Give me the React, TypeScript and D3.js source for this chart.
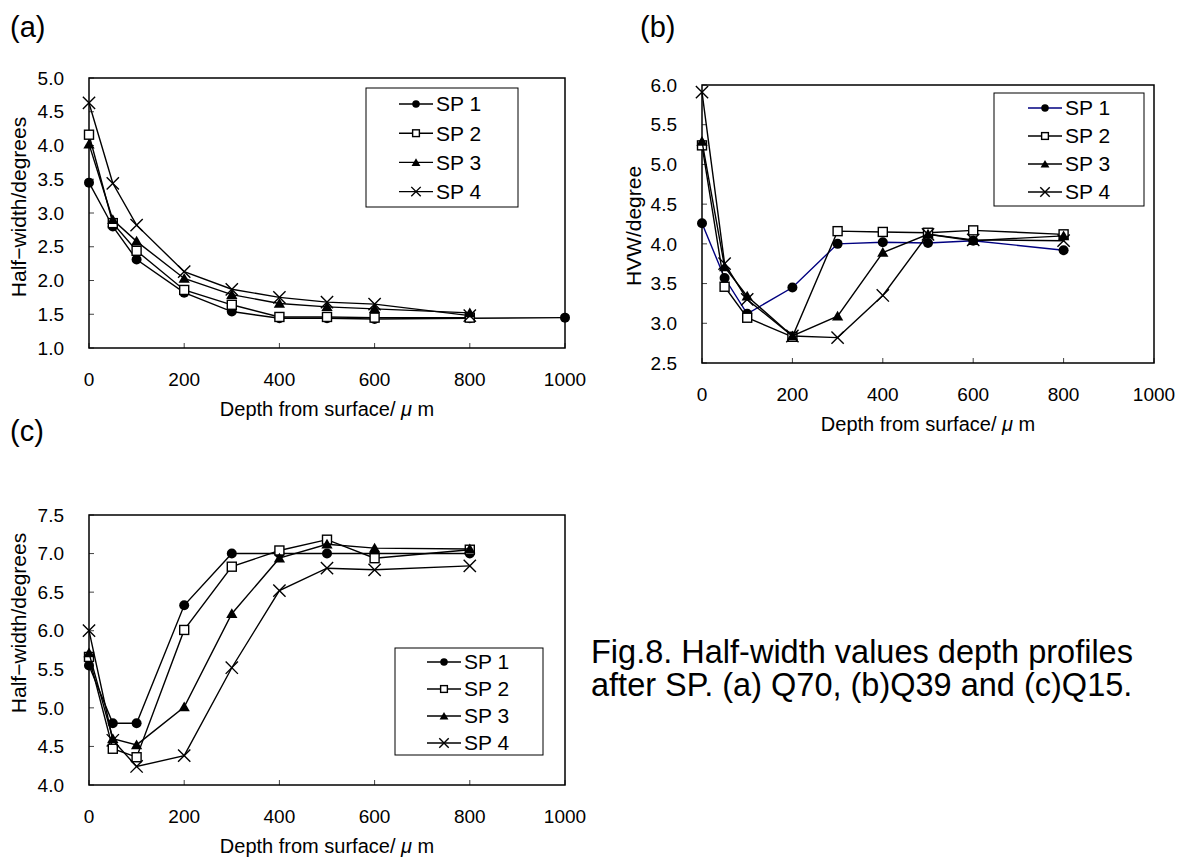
import React, { useEffect, useRef } from "react";
import * as d3 from "d3";

// depth positions (µm)
const depths = [0, 50, 100, 200, 300, 400, 500, 600, 800];
const depthsA1 = [0, 50, 100, 200, 300, 400, 500, 600, 800, 1000];
const xTicks = [0, 200, 400, 600, 800, 1000];
const seriesNames = ["SP 1", "SP 2", "SP 3", "SP 4"];

// (a) Q70
const aSP1 = [3.45, 2.8, 2.31, 1.82, 1.54, 1.44, 1.44, 1.43, 1.44, 1.45];
const aSP2 = [4.16, 2.85, 2.44, 1.86, 1.64, 1.46, 1.46, 1.45, 1.45];
const aSP3 = [4.02, 2.9, 2.58, 2.03, 1.79, 1.66, 1.61, 1.58, 1.52];
const aSP4 = [4.63, 3.44, 2.82, 2.13, 1.87, 1.75, 1.68, 1.65, 1.48];

// (b) Q39
const bSP1 = [4.26, 3.57, 3.12, 3.45, 4.0, 4.02, 4.01, 4.04, 3.92];
const bSP2 = [5.24, 3.46, 3.07, 2.83, 4.16, 4.15, 4.14, 4.17, 4.12];
const bSP3 = [5.29, 3.71, 3.34, 2.84, 3.09, 3.89, 4.12, 4.04, 4.1];
const bSP4 = [5.91, 3.75, 3.3, 2.84, 2.82, 3.35, 4.12, 4.05, 4.04];

// (c) Q15
const cSP1 = [5.55, 4.8, 4.8, 6.33, 7.0, 7.0, 7.0, 7.0, 7.0];
const cSP2 = [5.66, 4.47, 4.36, 6.01, 6.83, 7.04, 7.18, 6.94, 7.05];
const cSP3 = [5.71, 4.6, 4.52, 5.01, 6.22, 6.94, 7.12, 7.07, 7.06];
const cSP4 = [6.0, 4.58, 4.24, 4.38, 5.52, 6.52, 6.81, 6.79, 6.84];

const caption = [
  "Fig.8. Half-width values depth profiles",
  "after SP. (a) Q70, (b)Q39 and (c)Q15.",
];

const FONT = "'Liberation Sans', Arial, sans-serif";
const markers = ["circle", "square", "triangle", "times"];

const panels = [
  {
    label: "(a)", labelPos: [10, 37],
    box: { left: 89, top: 78, right: 565, bottom: 348 },
    yDomain: [1, 5], yTitle: "Half\u2212width/degrees", yTitlePos: [19, 207],
    series: [
      { x: depthsA1, y: aSP1, color: "#000" },
      { x: depths, y: aSP2, color: "#000" },
      { x: depths, y: aSP3, color: "#000" },
      { x: depths, y: aSP4, color: "#000" },
    ],
    legend: { x: 366, y: 88, w: 152, h: 119, row0: 104, step: 29.2, lineX: 399 },
  },
  {
    label: "(b)", labelPos: [640, 37],
    box: { left: 702, top: 85, right: 1154, bottom: 363 },
    yDomain: [2.5, 6], yTitle: "HVW/degree", yTitlePos: [634, 226],
    series: [
      { x: depths, y: bSP1, color: "#000080" },
      { x: depths, y: bSP2, color: "#000" },
      { x: depths, y: bSP3, color: "#000" },
      { x: depths, y: bSP4, color: "#000" },
    ],
    legend: { x: 994, y: 93, w: 150, h: 113, row0: 108, step: 28, lineX: 1028 },
  },
  {
    label: "(c)", labelPos: [10, 441],
    box: { left: 89, top: 515, right: 565, bottom: 785 },
    yDomain: [4, 7.5], yTitle: "Half\u2212width/degrees", yTitlePos: [19, 623],
    series: [
      { x: depths, y: cSP1, color: "#000" },
      { x: depths, y: cSP2, color: "#000" },
      { x: depths, y: cSP3, color: "#000" },
      { x: depths, y: cSP4, color: "#000" },
    ],
    legend: { x: 395, y: 648, w: 148, h: 107, row0: 662, step: 27, lineX: 427 },
  },
];

function drawMarker(g, type, cx, cy, big) {
  const s = big ? 1 : 0.75;
  if (type === "circle") {
    g.append("circle").attr("cx", cx).attr("cy", cy).attr("r", 5 * s).attr("fill", "#000");
  } else if (type === "square") {
    const h = 4.5 * s;
    g.append("rect")
      .attr("x", cx - h).attr("y", cy - h)
      .attr("width", 2 * h).attr("height", 2 * h)
      .attr("fill", "#fff").attr("stroke", "#000").attr("stroke-width", 1.4);
  } else if (type === "triangle") {
    g.append("path")
      .attr("transform", `translate(${cx},${cy + 1})`)
      .attr("d", d3.symbol().type(d3.symbolTriangle).size(big ? 55 : 34)())
      .attr("fill", "#000");
  } else {
    g.append("path")
      .attr("transform", `translate(${cx},${cy})`)
      .attr("d", d3.symbol().type(d3.symbolTimes).size(big ? 100 : 60)())
      .attr("fill", "none").attr("stroke", "#000").attr("stroke-width", 1.4);
  }
}

const App = () => {
  const ref = useRef(null);

  useEffect(() => {
    const svg = d3.select(ref.current);
    svg.selectAll("*").remove();

    panels.forEach((p) => {
      const { left, top, right, bottom } = p.box;
      const x = d3.scaleLinear().domain([0, 1000]).range([left, right]);
      const y = d3.scaleLinear().domain(p.yDomain).range([bottom, top]);
      const g = svg.append("g");

      g.append("text")
        .attr("x", p.labelPos[0]).attr("y", p.labelPos[1])
        .attr("font-size", 29).attr("font-family", FONT)
        .text(p.label);

      // tick marks (inward)
      const yTicks = d3.range(p.yDomain[0], p.yDomain[1] + 0.001, 0.5);
      g.selectAll(".ytick").data(yTicks).enter().append("line")
        .attr("x1", left).attr("x2", left + 5)
        .attr("y1", (d) => y(d)).attr("y2", (d) => y(d))
        .attr("stroke", "#444").attr("stroke-width", 1);
      g.selectAll(".xtick").data(xTicks).enter().append("line")
        .attr("x1", (d) => x(d)).attr("x2", (d) => x(d))
        .attr("y1", bottom).attr("y2", bottom - 5)
        .attr("stroke", "#444").attr("stroke-width", 1);

      g.append("rect")
        .attr("x", left).attr("y", top)
        .attr("width", right - left).attr("height", bottom - top)
        .attr("fill", "none").attr("stroke", "#000").attr("stroke-width", 1.5);

      // tick labels
      g.selectAll(".ylab").data(yTicks).enter().append("text")
        .attr("x", left - 25).attr("y", (d) => y(d))
        .attr("dy", "0.35em").attr("text-anchor", "end")
        .attr("font-size", 19).attr("font-family", FONT)
        .text((d) => d.toFixed(1));
      g.selectAll(".xlab").data(xTicks).enter().append("text")
        .attr("x", (d) => x(d)).attr("y", bottom + 31)
        .attr("dy", "0.35em").attr("text-anchor", "middle")
        .attr("font-size", 19).attr("font-family", FONT)
        .text((d) => d);

      // axis titles
      const xt = g.append("text")
        .attr("x", (left + right) / 2).attr("y", bottom + 61)
        .attr("dy", "0.35em").attr("text-anchor", "middle")
        .attr("font-size", 20).attr("font-family", FONT);
      xt.append("tspan").text("Depth from surface/ ");
      xt.append("tspan").attr("font-style", "italic").text("\u03bc");
      xt.append("tspan").text(" m");

      g.append("text")
        .attr("transform", `translate(${p.yTitlePos[0]},${p.yTitlePos[1]}) rotate(-90)`)
        .attr("dy", "0.35em").attr("text-anchor", "middle")
        .attr("font-size", 21).attr("font-family", FONT)
        .text(p.yTitle);

      // series
      const line = d3.line().x((d) => x(d[0])).y((d) => y(d[1]));
      p.series.forEach((s, i) => {
        const pts = s.x.map((v, k) => [v, s.y[k]]);
        g.append("path")
          .attr("d", line(pts))
          .attr("fill", "none").attr("stroke", s.color).attr("stroke-width", 1.4);
        pts.forEach((pt) => drawMarker(g, markers[i], x(pt[0]), y(pt[1]), true));
      });

      // legend
      const L = p.legend;
      g.append("rect")
        .attr("x", L.x).attr("y", L.y).attr("width", L.w).attr("height", L.h)
        .attr("fill", "#fff").attr("stroke", "#000").attr("stroke-width", 1);
      seriesNames.forEach((name, i) => {
        const cy = L.row0 + i * L.step;
        g.append("line")
          .attr("x1", L.lineX).attr("x2", L.lineX + 34)
          .attr("y1", cy).attr("y2", cy)
          .attr("stroke", p.series[i].color).attr("stroke-width", 1.4);
        drawMarker(g, markers[i], L.lineX + 17, cy, false);
        g.append("text")
          .attr("x", L.lineX + 37).attr("y", cy)
          .attr("dy", "0.35em")
          .attr("font-size", 21).attr("font-family", FONT)
          .text(name);
      });
    });

    // caption
    caption.forEach((t, i) => {
      svg.append("text")
        .attr("x", 591).attr("y", 652 + i * 33)
        .attr("dy", "0.35em")
        .attr("font-size", 32.5).attr("font-family", FONT)
        .text(t);
    });
  }, []);

  return (
    <svg
      ref={ref}
      width={1187}
      height={863}
      style={{ position: "absolute", left: 0, top: 0, background: "#fff" }}
    />
  );
};

export default App;
